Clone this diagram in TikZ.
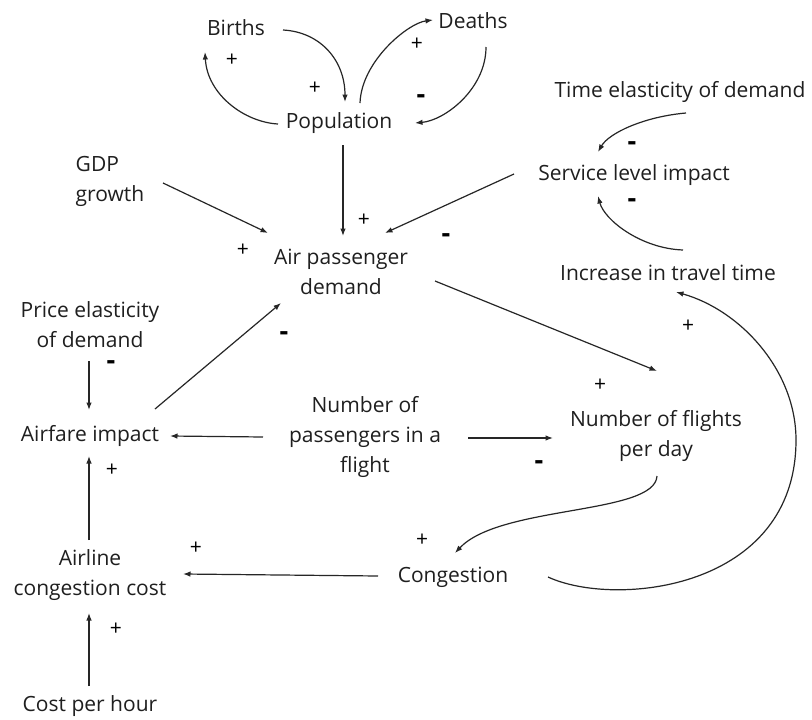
\documentclass[tikz,border=0pt]{standalone}
\usepackage{fontspec}
\setmainfont{Open Sans}
\usetikzlibrary{arrows.meta}
\tikzset{
  var/.style={inner sep=0pt, align=center, text=black!88, font=\fontsize{21}{30}\selectfont},
  plus/.style={inner sep=0pt, font=\fontsize{21}{21}\selectfont},
  minus/.style={inner sep=0pt, text height=4pt, text depth=0pt, font=\fontsize{27}{27}\selectfont\bfseries},
  link/.style={line width=1.2pt, draw=black!85, -{Latex[length=7.5pt,width=5.5pt]}},
}
\begin{document}
\begin{tikzpicture}[x=1pt,y=1pt]
\fill[white] (0,0) rectangle (812,-720);
\useasboundingbox (0,0) rectangle (812,-720);

% variables
\node[var] (births) at (236,-28)  {Births};
\node[var] (deaths) at (473,-21)  {Deaths};
\node[var] (pop)    at (339,-123) {Population};
\node[var] (ted)    at (680,-92)  {Time elasticity of demand};
\node[var] (sli)    at (634,-175) {Service level impact};
\node[var, align=left] (gdp) at (110,-181) {GDP\\growth};
\node[var] (apd)    at (341,-272) {Air passenger\\demand};
\node[var] (itt)    at (668,-273) {Increase in travel time};
\node[var] (ped)    at (90,-325)  {Price elasticity\\of demand};
\node[var] (afi)    at (90,-436)  {Airfare impact};
\node[var] (npf)    at (365,-437) {Number of\\passengers in a\\flight};
\node[var] (nfd)    at (656,-436) {Number of flights\\per day};
\node[var] (acc)    at (90,-575)  {Airline\\congestion cost};
\node[var] (cong)   at (453,-577) {Congestion};
\node[var] (cph)    at (90,-706)  {Cost per hour};

% population loops
\draw[link] ([shift={(47,-2)}]births.center) to[out=-3,in=90,out distance=37,in distance=42] ([shift={(6,21)}]pop.center);
\draw[link] ([shift={(-61,-1)}]pop.center) to[out=177,in=-87,out distance=33,in distance=43] ([shift={(-31,-24)}]births.center);
\draw[link] ([shift={(21,20)}]pop.center) to[out=88,in=187,out distance=42,in distance=25] ([shift={(-40,1)}]deaths.center);
\draw[link] ([shift={(13,-26)}]deaths.center) to[out=-90,in=5,out distance=42,in distance=30] ([shift={(76,0)}]pop.center);

% into air passenger demand
\draw[link] ([shift={(4,-22)}]pop.center) -- ([shift={(2,36)}]apd.center);
\draw[link] ([shift={(53,-2)}]gdp.center) -- ([shift={(-73,39)}]apd.center);
\draw[link] ([shift={(-120,1)}]sli.center) -- ([shift={(44,39)}]apd.center);
\draw[link] ([shift={(65,27)}]afi.center) -- ([shift={(-60,-31)}]apd.center);

% service level
\draw[link] ([shift={(6,-21)}]ted.center) to[out=185,in=60,out distance=42,in distance=22] ([shift={(-36,23)}]sli.center);
\draw[link] ([shift={(15,23)}]itt.center) to[out=178,in=-75,out distance=42,in distance=25] ([shift={(-36,-21)}]sli.center);

% flights and passengers
\draw[link] ([shift={(94,-9)}]apd.center) -- ([shift={(1,65)}]nfd.center);
\draw[link] ([shift={(-1,-36)}]ped.center) -- ([shift={(-1,26)}]afi.center);
\draw[link] ([shift={(-102,0)}]npf.center) -- ([shift={(80,0)}]afi.center);
\draw[link] ([shift={(103,-1)}]npf.center) -- ([shift={(-103,-2)}]nfd.center);

% congestion
\draw[link] ([shift={(1,-40)}]nfd.center) .. controls (655,-515) and (500,-505) .. ([shift={(2,24)}]cong.center);
\draw[link] ([shift={(95,0)}]cong.center) .. controls (615,-608) and (796,-590) .. (796,-440)
            .. controls (796,-370) and (740,-310) .. ([shift={(8,-19)}]itt.center);
\draw[link] ([shift={(-75,1)}]cong.center) -- ([shift={(93,1)}]acc.center);
\draw[link] ([shift={(-1,35)}]acc.center) -- ([shift={(-1,-20)}]afi.center);
\draw[link] ([shift={(-1,20)}]cph.center) -- ([shift={(-1,-38)}]acc.center);

% polarities
\node[plus]  (s1)  at (232,-60)  {+};
\node[plus]  (s2)  at (315,-88)  {+};
\node[plus]  (s3)  at (417,-44)  {+};
\node[minus] (s4)  at (421,-101) {-};
\node[plus]  (s5)  at (364,-220) {+};
\node[plus]  (s6)  at (243,-250) {+};
\node[minus] (s7)  at (446,-240) {-};
\node[minus] (s8)  at (632,-148) {-};
\node[minus] (s9)  at (632,-205) {-};
\node[plus]  (s10) at (600,-385) {+};
\node[minus] (s11) at (111,-367) {-};
\node[minus] (s12) at (284,-338) {-};
\node[minus] (s13) at (539,-467) {-};
\node[plus]  (s14) at (422,-540) {+};
\node[plus]  (s15) at (688,-326) {+};
\node[plus]  (s16) at (196,-548) {+};
\node[plus]  (s17) at (112,-470) {+};
\node[plus]  (s18) at (116,-629) {+};
\end{tikzpicture}
\end{document}
